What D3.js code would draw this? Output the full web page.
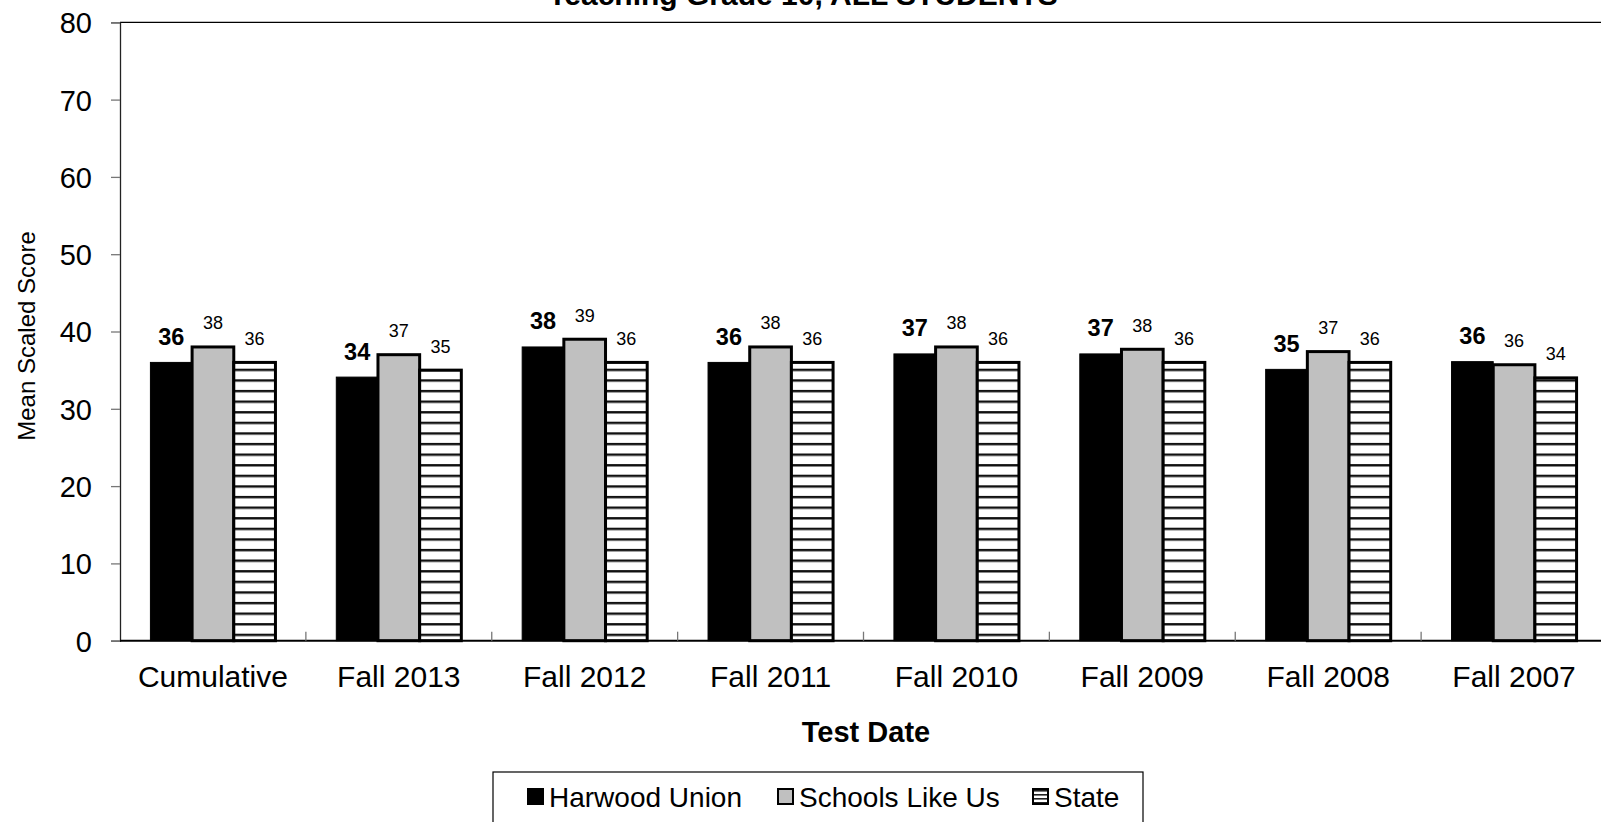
<!DOCTYPE html>
<html>
<head>
<meta charset="utf-8">
<script src="https://cdn.jsdelivr.net/npm/d3@7"></script>
<style>
  html, body { margin: 0; padding: 0; background: #fff; }
  svg { display: block; font-family: "Liberation Sans", Arial, sans-serif; }
</style>
</head>
<body>
<svg id="chart" width="1601" height="822"></svg>
<script>
// ---- data ----
const categories = ["Cumulative", "Fall 2013", "Fall 2012", "Fall 2011", "Fall 2010", "Fall 2009", "Fall 2008", "Fall 2007"];
const seriesNames = ["Harwood Union", "Schools Like Us", "State"];
const harwood = [36, 34.1, 38, 36, 37.1, 37.1, 35.1, 36.1];
const schoolsLikeUs = [38, 37, 39, 38, 38, 37.7, 37.4, 35.7];
const stateVals = [36, 35, 36, 36, 36, 36, 36, 34];
const yTicks = [0, 10, 20, 30, 40, 50, 60, 70, 80];
const titleText = "Teaching Grade 10, ALL STUDENTS";
const xTitle = "Test Date";
const yTitle = "Mean Scaled Score";

const seriesValues = [harwood, schoolsLikeUs, stateVals];

// ---- layout ----
const svg = d3.select("#chart");
const plotLeft = 120, plotRight = 1607, plotTop = 22.3, plotBottom = 640.7;

const x = d3.scaleBand().domain(categories).range([plotLeft, plotRight]).padding(0);
const x1 = d3.scaleBand().domain(seriesNames).range([0, x.bandwidth()]).paddingInner(0).paddingOuter(0.73);
const y = d3.scaleLinear().domain([0, 80]).range([plotBottom, plotTop]);

// patterns
const defs = svg.append("defs");
const pat = defs.append("pattern").attr("id", "stripes").attr("patternUnits", "userSpaceOnUse")
  .attr("width", 20).attr("height", 10.6).attr("y", plotBottom - 7);
pat.append("rect").attr("width", 20).attr("height", 10.6).attr("fill", "#fff");
pat.append("rect").attr("y", 0).attr("width", 20).attr("height", 2.4).attr("fill", "#111");

const pat2 = defs.append("pattern").attr("id", "stripesSmall").attr("patternUnits", "userSpaceOnUse")
  .attr("width", 20).attr("height", 4).attr("y", 1);
pat2.append("rect").attr("width", 20).attr("height", 4).attr("fill", "#fff");
pat2.append("rect").attr("y", 0).attr("width", 20).attr("height", 1.6).attr("fill", "#222");

// title (mostly cut off at top)
svg.append("text").attr("x", 803).attr("y", 5).attr("text-anchor", "middle")
  .attr("font-size", 30).attr("font-weight", "bold").text(titleText);

// top border of plot
svg.append("line").attr("x1", plotLeft).attr("x2", plotRight).attr("y1", plotTop).attr("y2", plotTop)
  .attr("stroke", "#000").attr("stroke-width", 1.3);

// y axis
const yAxis = svg.append("g").attr("transform", `translate(${plotLeft},0)`)
  .call(d3.axisLeft(y).tickValues(yTicks).tickSize(9).tickPadding(19).tickFormat(d3.format("d")));
yAxis.select(".domain").attr("stroke", "#222").attr("stroke-width", 1.3);
yAxis.selectAll(".tick line").attr("stroke", "#777").attr("stroke-width", 1.3);
yAxis.selectAll(".tick text").attr("font-size", 29).attr("fill", "#000")
  .attr("font-family", "Liberation Sans, Arial, sans-serif").attr("dy", "0.36em");

// bars
const groups = svg.append("g").selectAll("g").data(categories).join("g")
  .attr("transform", d => `translate(${x(d)},0)`);

const fills = ["#000", "#c0c0c0", "url(#stripes)"];
seriesNames.forEach((s, si) => {
  groups.append("rect")
    .attr("x", x1(s))
    .attr("width", x1.bandwidth())
    .attr("y", (d, i) => y(seriesValues[si][i]))
    .attr("height", (d, i) => plotBottom - y(seriesValues[si][i]))
    .attr("fill", fills[si])
    .attr("stroke", "#000")
    .attr("stroke-width", si === 0 ? 1 : 3);
});

// data labels
seriesNames.forEach((s, si) => {
  groups.append("text")
    .attr("x", x1(s) + x1.bandwidth() / 2)
    .attr("y", (d, i) => y(seriesValues[si][i]) - 17.5)
    .attr("text-anchor", "middle")
    .attr("font-size", si === 0 ? 23.5 : 18)
    .attr("font-weight", si === 0 ? "bold" : "normal")
    .text((d, i) => d3.format(".0f")(seriesValues[si][i]));
});

// x baseline and category ticks (inside, upward)
svg.append("line").attr("x1", plotLeft).attr("x2", plotRight).attr("y1", plotBottom).attr("y2", plotBottom)
  .attr("stroke", "#000").attr("stroke-width", 2);
svg.append("g").selectAll("line").data(categories.slice(1)).join("line")
  .attr("x1", d => x(d)).attr("x2", d => x(d))
  .attr("y1", plotBottom).attr("y2", plotBottom - 9)
  .attr("stroke", "#777").attr("stroke-width", 1.3);

// category labels
svg.append("g").selectAll("text").data(categories).join("text")
  .attr("x", d => x(d) + x.bandwidth() / 2)
  .attr("y", 687)
  .attr("text-anchor", "middle")
  .attr("font-size", 30)
  .text(d => d);

// axis titles
svg.append("text").attr("x", 866).attr("y", 742).attr("text-anchor", "middle")
  .attr("font-size", 29).attr("font-weight", "bold").text(xTitle);
svg.append("text").attr("transform", "translate(35,336) rotate(-90)").attr("text-anchor", "middle")
  .attr("font-size", 24).text(yTitle);

// legend
const lg = svg.append("g");
lg.append("rect").attr("x", 493).attr("y", 772).attr("width", 650).attr("height", 80)
  .attr("fill", "#fff").attr("stroke", "#000").attr("stroke-width", 1.2);
const legendX = [528, 778, 1033];
const legendFills = ["#000", "#c0c0c0", "url(#stripesSmall)"];
seriesNames.forEach((s, si) => {
  const g = lg.append("g").attr("transform", `translate(${legendX[si]},789)`);
  g.append("rect").attr("x", 0).attr("y", 0).attr("width", 15).attr("height", 15)
    .attr("fill", legendFills[si])
    .attr("stroke", "#000").attr("stroke-width", 2);
  g.append("text").attr("x", 21).attr("y", 17.5).attr("font-size", 28).text(s);
});
</script>
</body>
</html>
